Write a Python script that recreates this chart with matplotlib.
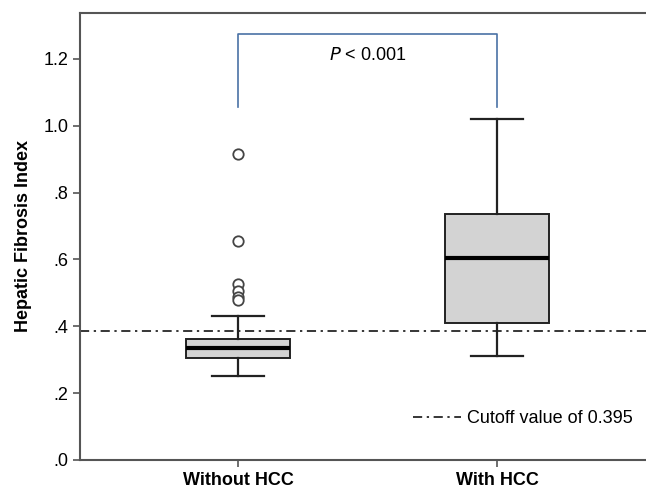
import matplotlib
matplotlib.use("Agg")
import matplotlib.pyplot as plt
from matplotlib.lines import Line2D

plt.rcParams["font.family"] = ["Liberation Sans", "DejaVu Sans"]

# box summaries
groups = ["Without HCC", "With HCC"]
q1 = [0.306, 0.411]
median = [0.336, 0.603]
q3 = [0.363, 0.735]
whis_lo = [0.252, 0.312]
whis_hi = [0.432, 1.020]
outliers = [[0.915, 0.654, 0.525, 0.504, 0.489, 0.480], []]

cutoff = 0.387
cutoff_label = "Cutoff value of 0.395"
p_text = r"$\it{P}$ < 0.001"
y_ticks = [0.0, 0.2, 0.4, 0.6, 0.8, 1.0, 1.2]
y_tick_labels = [".0", ".2", ".4", ".6", ".8", "1.0", "1.2"]

stats = [
    {"label": g, "q1": a, "med": m, "q3": b, "whislo": lo, "whishi": hi, "fliers": f}
    for g, a, m, b, lo, hi, f in zip(groups, q1, median, q3, whis_lo, whis_hi, outliers)
]

fig = plt.figure(figsize=(6.46, 4.91), dpi=100)
ax = fig.add_axes([80 / 646, 31 / 491, 1 - 80 / 646, 447 / 491])

positions = [1, 2]
ax.bxp(
    stats, positions=positions, widths=0.4, patch_artist=True,
    boxprops=dict(facecolor="#d3d3d3", edgecolor="#222222", linewidth=1.4),
    medianprops=dict(color="black", linewidth=3),
    whiskerprops=dict(color="#222222", linewidth=1.6),
    capprops=dict(color="#222222", linewidth=1.6),
    capwidths=0.2,
    flierprops=dict(marker="o", markerfacecolor="white", markeredgecolor="#444444",
                    markersize=7.5, markeredgewidth=1.3),
)

ax.axhline(cutoff, color="black", linestyle=(0, (6, 3, 1.5, 3)), linewidth=1.1, zorder=1)

# significance bracket
ax.plot([1, 1, 2, 2], [1.055, 1.274, 1.274, 1.055], color="#4a72a6", linewidth=1.2)
ax.text(1.5, 1.21, p_text, ha="center", va="center", fontsize=13)

ax.set_xlim(0.39, 2.575)
ax.set_ylim(0, 1.337)
ax.set_xticks(positions)
ax.set_xticklabels(groups, fontsize=13, fontweight="bold")
ax.set_yticks(y_ticks)
ax.set_yticklabels(y_tick_labels, fontsize=13)
ax.set_ylabel("Hepatic Fibrosis Index", fontsize=13, fontweight="bold", labelpad=8)

for side in ["left", "bottom", "top"]:
    ax.spines[side].set_color("#555555")
    ax.spines[side].set_linewidth(1.5)
ax.spines["right"].set_visible(False)
ax.tick_params(axis="both", direction="out", length=5, width=1.2, color="#555555")

handle = Line2D([], [], color="black", linestyle=(0, (6, 3, 1.5, 3)), linewidth=1.1)
ax.legend([handle], [cutoff_label], loc="center right", bbox_to_anchor=(0.989, 0.092),
          frameon=False, fontsize=13, handlelength=2.7, handletextpad=0.3, borderaxespad=0)

fig.savefig("out.png", dpi=100)
